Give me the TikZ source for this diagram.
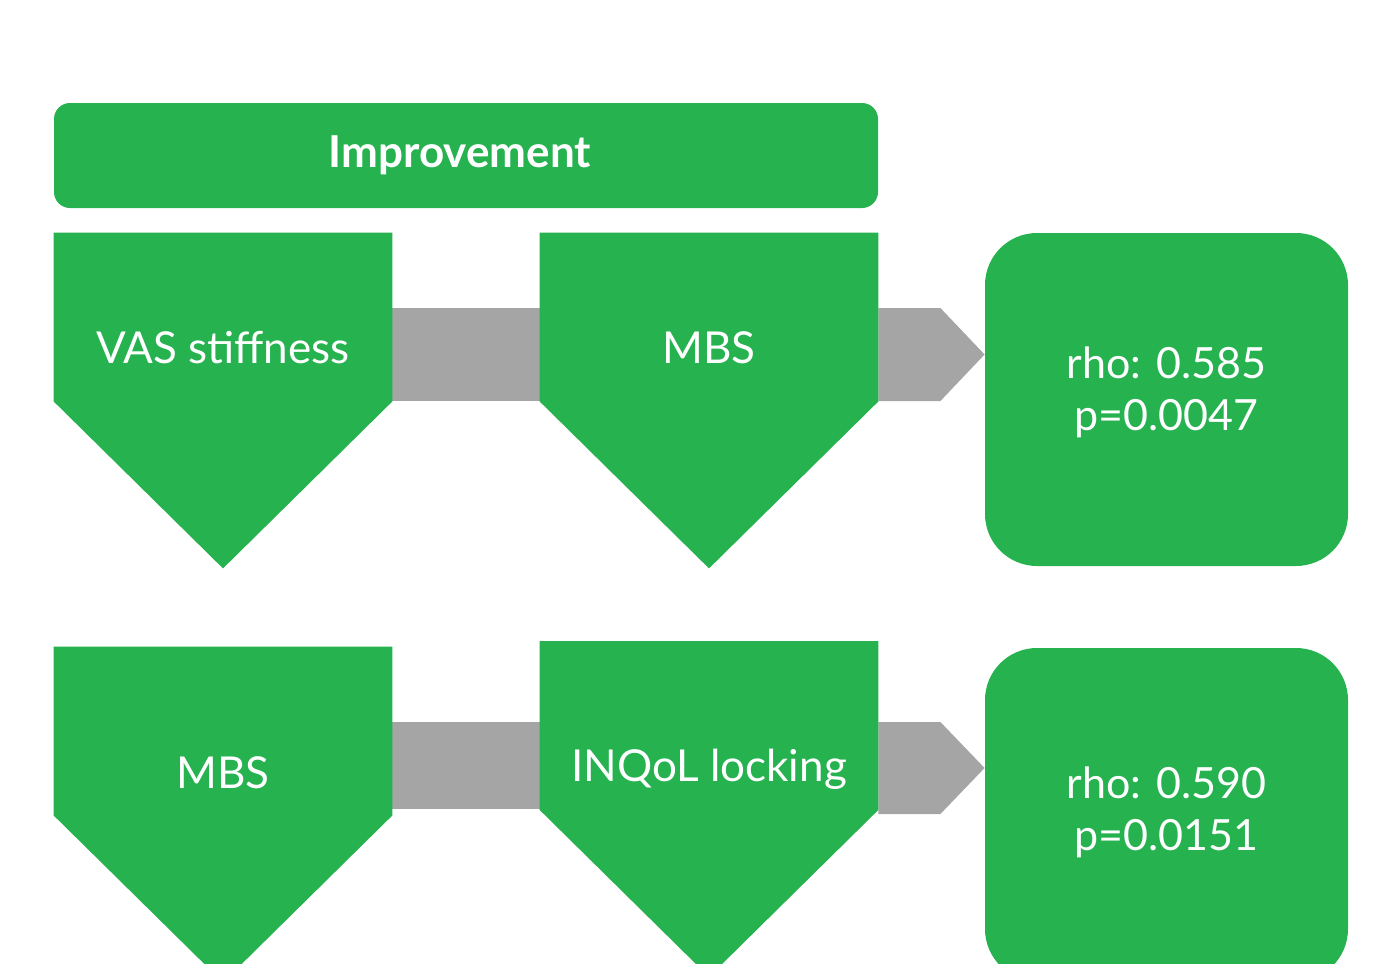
\documentclass[tikz,border=0pt]{standalone}
\usepackage{fontspec}
\setmainfont{Lato}
\usetikzlibrary{positioning, calc}
\definecolor{Leaf}{RGB}{37, 178, 79}
\definecolor{Stone}{RGB}{165, 165, 165}
\pgfdeclarelayer{back}
\pgfsetlayers{back,main}
\tikzset{
    header/.style={rectangle, rounded corners=8pt, fill=Leaf, text=white, minimum width=412pt, minimum height=52.5pt, font=\fontsize{22}{27}\selectfont\bfseries},
    block/.style={rectangle, minimum width=169pt, minimum height=84pt, inner sep=0pt},
    blocktext/.style={text=white, font=\fontsize{22}{27}\selectfont, yshift=-15.5pt},
    result/.style={rectangle, rounded corners=26pt, fill=Leaf, minimum width=181.5pt, minimum height=166.5pt},
    resulttext/.style={text=white, align=center, font=\fontsize{21.5}{26}\selectfont},
    link/.style={fill=Stone}
}
\begin{document}
\begin{tikzpicture}[x=0.5pt, y=-0.5pt]
\useasboundingbox (0,0) rectangle (1383,964);

% Title bar
\node (title) [header] at (466,155.5) {Improvement\hspace*{6pt}};

% First row
\node (vas) [block, label={[blocktext]center:VAS stiffness}] at (223,317) {};
\node (mbsA) [block, label={[blocktext]center:MBS}] at (709,317) {};
\node (resA) [result, label={[resulttext, yshift=3.5pt]center:rho: 0.585\\p=0.0047}] at (1166.5,399.5) {};

% Second row
\node (mbsB) [block, label={[blocktext, yshift=-5.5pt]center:MBS}] at (223,731) {};
\node (inqol) [block, label={[blocktext, yshift=-6.25pt]center:INQoL locking}] at (709,725.5) {};
\node (resB) [result, label={[resulttext, yshift=1pt]center:rho: 0.590\\p=0.0151}] at (1166.5,814.5) {};

\begin{pgfonlayer}{back}
% Connectors
\fill[link] ($(vas.east)+(0,-9)$) rectangle ($(mbsA.west)+(0,84)$);
\fill[link] ($(mbsA.east)+(0,-9)$) -- ++(62,0) -- (resA.west |- 0,354.5) -- ($(mbsA.east)+(62,84)$) -- ($(mbsA.east)+(0,84)$) -- cycle;
\fill[link] ($(mbsB.east)+(0,-9)$) rectangle ($(inqol.west)+(0,83)$);
\fill[link] ($(inqol.east)+(0,-3.5)$) -- ++(62,0) -- (resB.west |- 0,768) -- ($(inqol.east)+(62,88.5)$) -- ($(inqol.east)+(0,88.5)$) -- cycle;

% Arrow shaped blocks
\foreach \b in {vas, mbsA, mbsB, inqol}
    \fill[Leaf] (\b.north west) -- (\b.north east) -- (\b.south east)
        -- ($(\b.south)+(0,167)$) -- (\b.south west) -- cycle;
\end{pgfonlayer}
\end{tikzpicture}
\end{document}
